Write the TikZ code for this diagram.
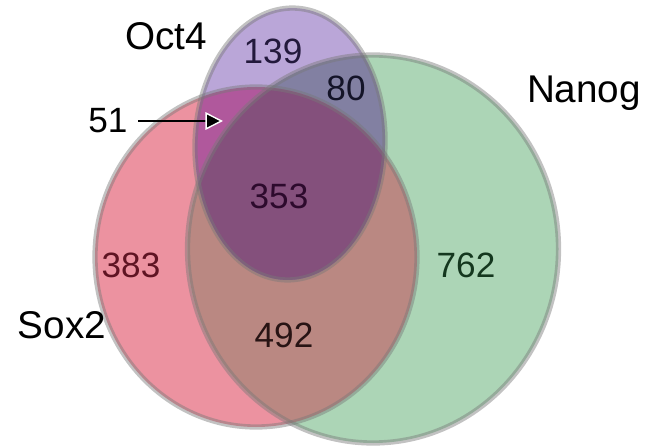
\documentclass[tikz,border=0pt]{standalone}
\usepackage{fontspec}
\setmainfont{Liberation Sans}
\usetikzlibrary{arrows.meta,calc,positioning}
\definecolor{soxred}{RGB}{236,146,160}
\definecolor{nangreen}{RGB}{172,213,182}
\definecolor{octpurple}{RGB}{186,166,216}
\definecolor{soxnan}{RGB}{186,136,130}
\definecolor{octnan}{RGB}{130,128,162}
\definecolor{octsox}{RGB}{176,88,156}
\definecolor{allthree}{RGB}{132,80,124}
\definecolor{rimgray}{RGB}{120,120,120}
\def\soxpath{(5.12,3.78) ellipse [x radius=3.22, y radius=3.40]}
\def\nanpath{(7.46,3.94) ellipse [x radius=3.71, y radius=3.88]}
\def\octpath{[rotate around={-2:(5.80,6.04)}] (5.80,6.04) ellipse [x radius=1.90, y radius=2.72]}

\begin{document}
\begin{tikzpicture}[
  setrim/.style={draw=rimgray, draw opacity=0.45, line width=3pt},
  count/.style={font=\fontsize{20}{24}\selectfont, inner sep=2pt},
  setname/.style={font=\fontsize{22}{26}\selectfont, inner sep=2pt}]
\useasboundingbox (0,0) rectangle (13.2,8.92);
% single sets
\fill[soxred] \soxpath;
\fill[nangreen] \nanpath;
\fill[octpurple] \octpath;
% overlaps
\begin{scope}
\clip \soxpath;
\fill[soxnan] \nanpath;
\end{scope}
\begin{scope}
\clip \octpath;
\fill[octnan] \nanpath;
\fill[octsox] \soxpath;
\clip \soxpath;
\fill[allthree] \nanpath;
\end{scope}
% rims
\draw[setrim] \soxpath;
\draw[setrim] \nanpath;
\draw[setrim] \octpath;
\node[setname] (oct) at (3.32,8.20) {Oct4};
\node[setname] (nanog) at (11.68,7.06) {Nanog};
\node[setname] (sox) at (1.24,2.42) {Sox2};
\node[count, text={rgb,255:red,35;green,25;blue,60}] (c139) at (5.46,7.90) {139};
\node[count, text={rgb,255:red,20;green,20;blue,40}] (c80) at (6.92,7.16) {80};
\node[count] (c51) at (2.16,6.50) {51};
\node[count, text={rgb,255:red,45;green,10;blue,45}] (c353) at (5.58,5.00) {353};
\node[count, text={rgb,255:red,95;green,20;blue,35}] (c383) at (2.62,3.62) {383};
\node[count, text={rgb,255:red,20;green,55;blue,30}] (c762) at (9.32,3.62) {762};
\node[count, text={rgb,255:red,40;green,20;blue,20}] (c492) at (5.68,2.22) {492};
\coordinate (tip) at (4.46,6.50);
\draw[line width=1.1pt, shorten <=4pt, -{Triangle[length=10pt,width=10pt,fill=black,color=white,line width=0.8pt]}] (c51) to (tip);
\end{tikzpicture}
\end{document}
